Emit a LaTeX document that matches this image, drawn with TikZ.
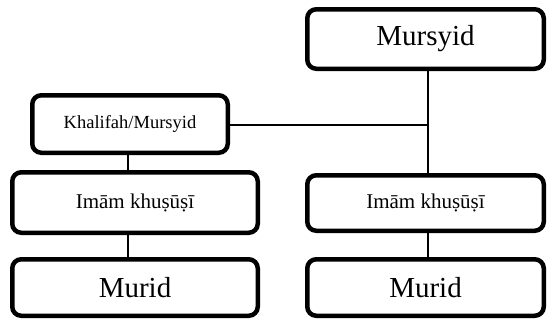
\documentclass[tikz,border=0pt]{standalone}
\usepackage{fontspec}
\setmainfont{Liberation Serif}
\begin{document}
\begin{tikzpicture}[x=1pt,y=-1pt,
  box/.style={draw=black, line width=4.5pt, rounded corners=9pt, fill=white,
    inner sep=0pt, align=center},
  big/.style={font=\fontsize{29}{31}\selectfont},
  mid/.style={font=\fontsize{21}{24}\selectfont},
  small/.style={font=\fontsize{18.5}{21}\selectfont},
  link/.style={draw=black, line width=1.4pt}]
\useasboundingbox (0,0) rectangle (548,322);

% right column
\node[box, big, minimum width=236.5pt, minimum height=59.5pt] (mursyid) at (425.5,39) {Mursyid};
\node[box, mid, minimum width=236.5pt, minimum height=55.5pt] (imamR) at (425.5,203) {Im\=am khu\d{s}\=u\d{s}\=\i};
\node[box, big, minimum width=236.5pt, minimum height=56.5pt] (muridR) at (425.5,287.5) {Murid};

% left column
\node[box, small, minimum width=195.5pt, minimum height=57.5pt] (khal) at (130,124) {Khalifah/Mursyid};
\node[box, mid, minimum width=245.5pt, minimum height=60.5pt] (imamL) at (135,202.5) {Im\=am khu\d{s}\=u\d{s}\=\i};
\node[box, big, minimum width=245.5pt, minimum height=56.5pt] (muridL) at (135,287.5) {Murid};

% connectors: trunk under Mursyid with a branch to Khalifah/Mursyid
\coordinate (jR) at (428,125);
\path[link] (mursyid.south -| jR) -- (imamR.north -| jR);
\path[link] (khal.east |- jR) -- (jR);
\path[link] (khal.south -| 128,0) -- (imamL.north -| 128,0);
\path[link] (imamL.south -| 128,0) -- (muridL.north -| 128,0);
\path[link] (imamR.south -| jR) -- (muridR.north -| jR);
\end{tikzpicture}
\end{document}
